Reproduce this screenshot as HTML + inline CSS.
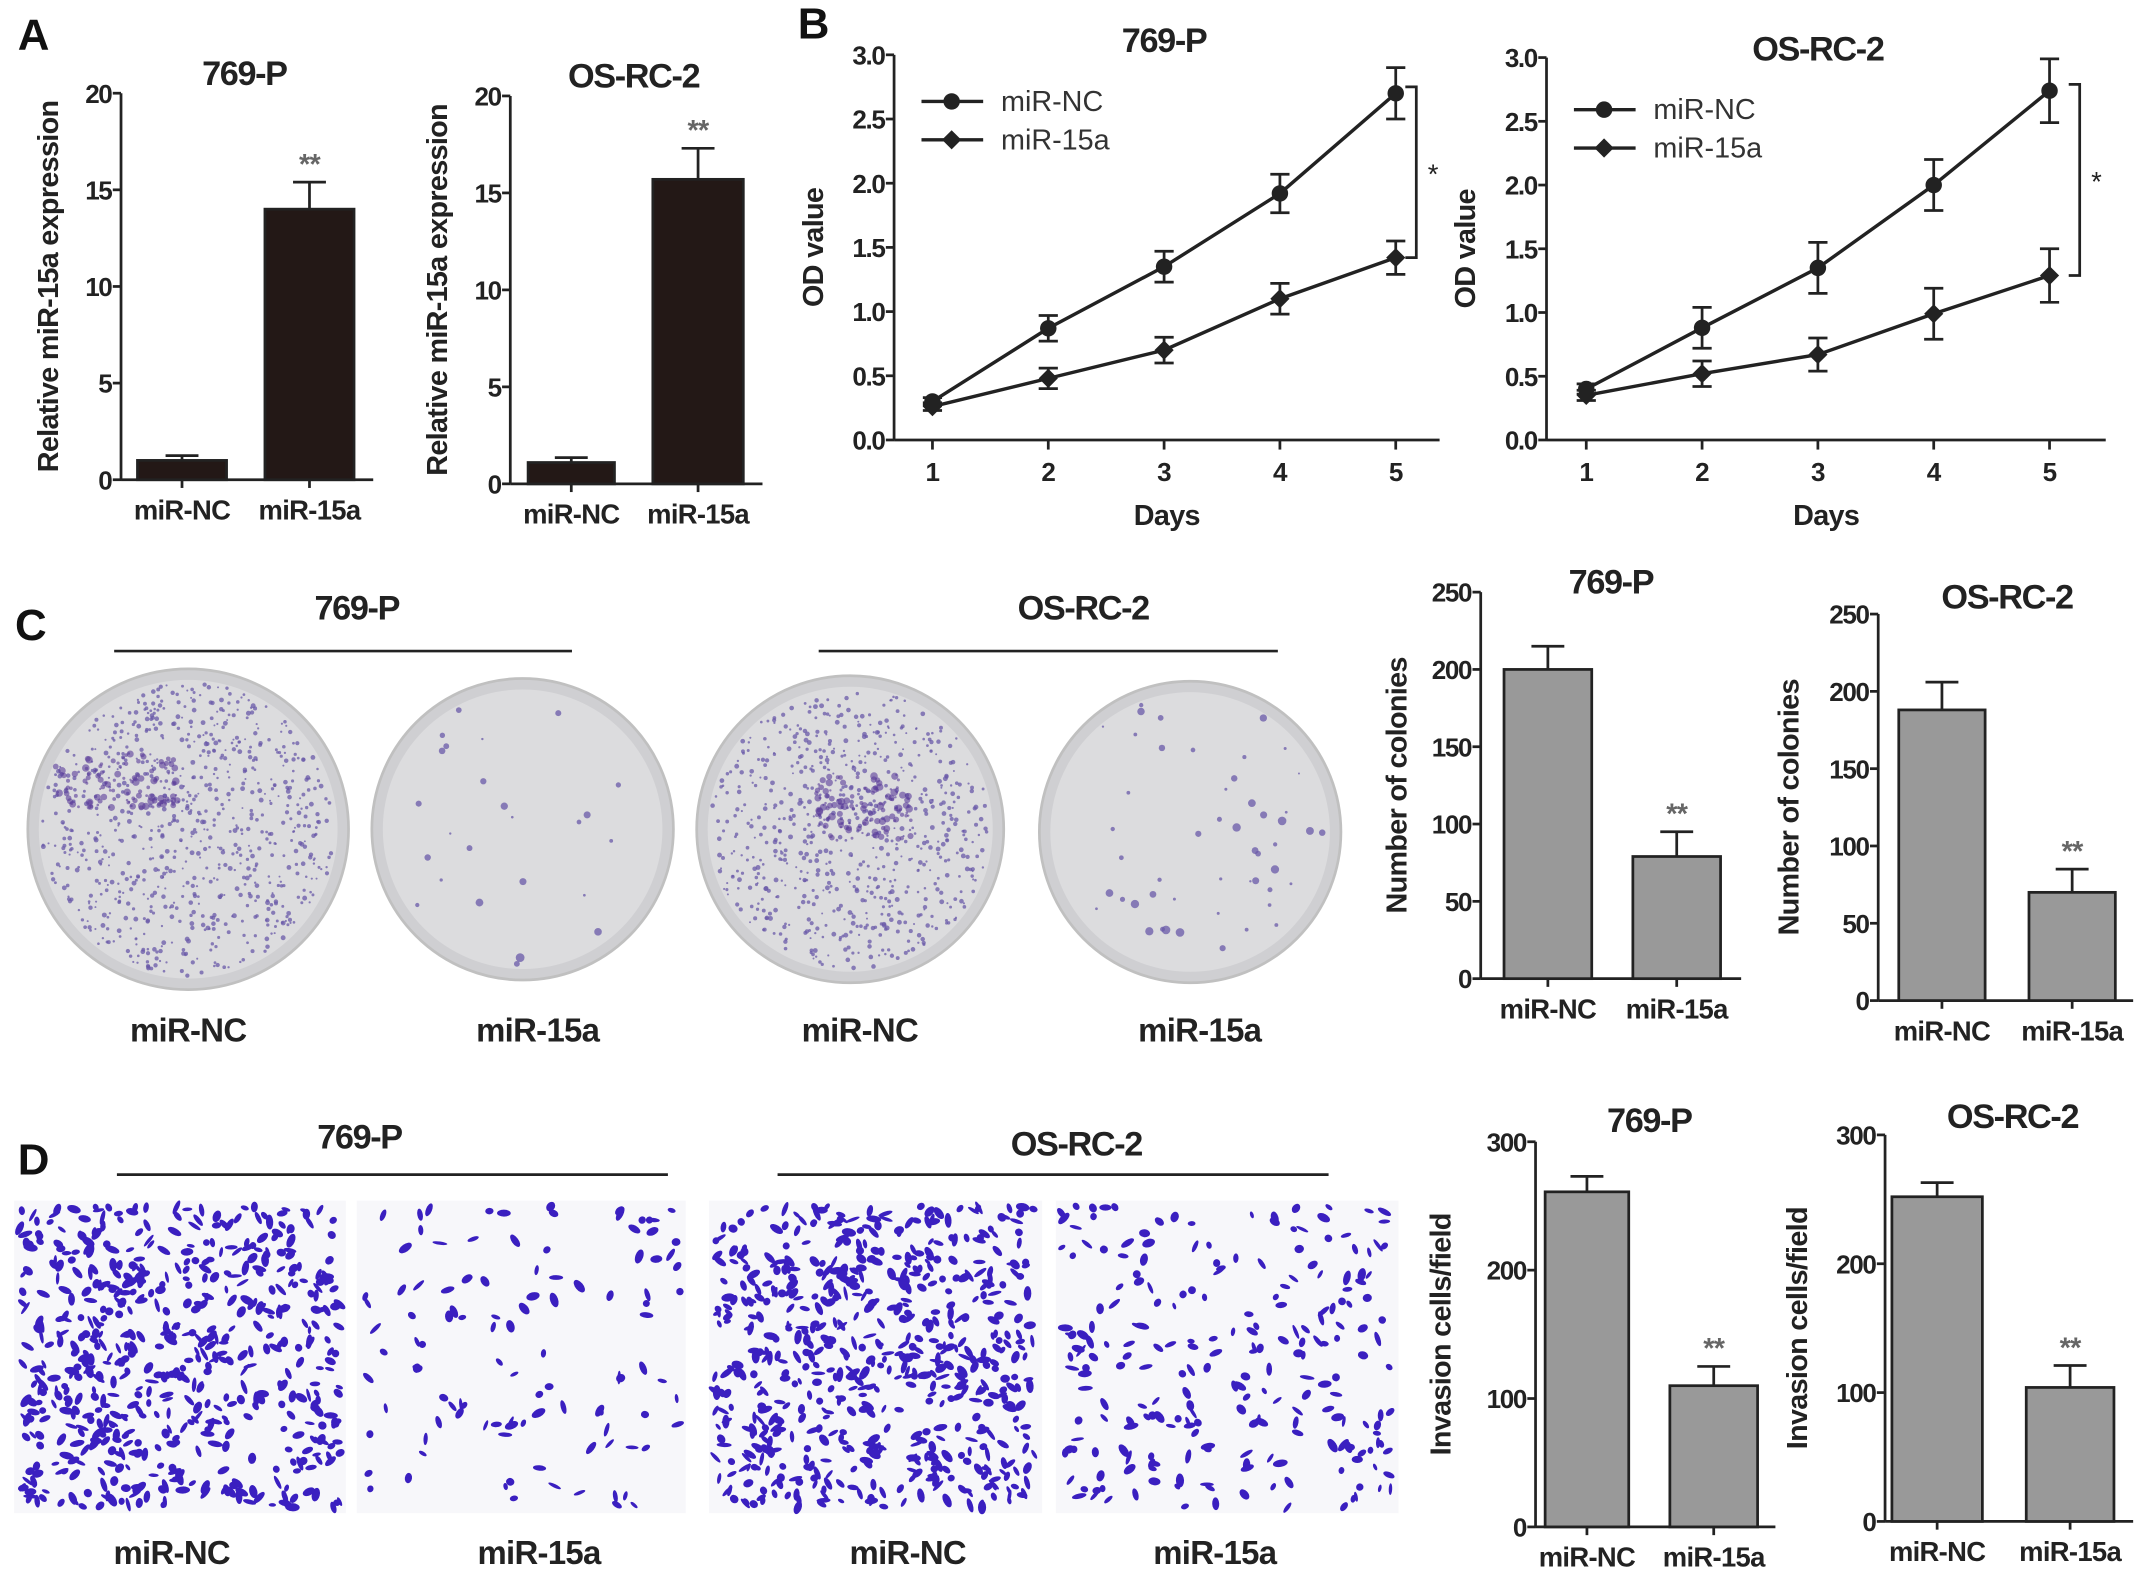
<!DOCTYPE html>
<html><head><meta charset="utf-8"><style>
html,body{margin:0;padding:0;background:#fff;}
svg{display:block;font-family:"Liberation Sans",Arial,sans-serif;}
</style></head><body>
<svg id="fig" width="2150" height="1579" viewBox="0 0 1568 1152" xmlns="http://www.w3.org/2000/svg"></svg>
<script>
// ===== Data =====
const barCats = ["miR-NC","miR-15a"];
const aP769 = [1.0, 14.0];       const aP769Err = [0.25, 1.4];
const aOSRC = [1.1, 15.7];       const aOSRCErr = [0.25, 1.6];
const days = [1,2,3,4,5];
const bP769NC = [0.30,0.87,1.35,1.92,2.70]; const bP769NCErr=[0.03,0.10,0.12,0.15,0.20];
const bP769A  = [0.26,0.48,0.70,1.10,1.42]; const bP769AErr=[0.03,0.08,0.10,0.12,0.13];
const bOSNC   = [0.40,0.88,1.35,2.00,2.74]; const bOSNCErr=[0.04,0.16,0.20,0.20,0.25];
const bOSA    = [0.35,0.52,0.67,0.99,1.29]; const bOSAErr=[0.04,0.10,0.13,0.20,0.21];
const cP769 = [200, 79];  const cP769Err = [15, 16];
const cOSRC = [188, 70];  const cOSRCErr = [18, 15];
const dP769 = [261, 110]; const dP769Err = [12, 15];
const dOSRC = [252, 104]; const dOSRCErr = [11, 17];
const ticksA = [0,5,10,15,20];
const ticksB = [0,0.5,1.0,1.5,2.0,2.5,3.0];
const ticksC = [0,50,100,150,200,250];
const ticksD = [0,100,200,300];

const svg = document.getElementById('fig');
const NS = "http://www.w3.org/2000/svg";
function el(tag, attrs, parent){
  const e = document.createElementNS(NS, tag);
  for (const k in attrs) e.setAttribute(k, attrs[k]);
  (parent||svg).appendChild(e); return e;
}
function txt(s, x, y, size, opts, parent){
  opts = opts||{};
  const t = el('text', {x:x, y:y, 'font-size':size, 'font-weight':opts.w||'bold', 'text-anchor':opts.a||'middle', fill:opts.fill||'#222', 'letter-spacing':opts.ls||'-0.5'}, parent);
  if (opts.rot) t.setAttribute('transform', `rotate(-90 ${x} ${y})`);
  t.textContent = s; return t;
}

// ===== Bar chart =====
function barChart(name, ax, yTop, yBot, yMax, ticks, vals, errs, bars, fill, title, tx, ty, ylab, ylx, xAxisEnd){
  const grp = el('g', {}, svg);
  
  
  const y = v => yBot - (v / yMax) * (yBot - yTop);
  el('line', {x1:ax, y1:yTop, x2:ax, y2:yBot, stroke:'#222','stroke-width':2}, grp);
  el('line', {x1:ax, y1:yBot, x2:xAxisEnd, y2:yBot, stroke:'#222','stroke-width':2}, grp);
  ticks.forEach(t => {
    el('line', {x1:ax-6, y1:y(t), x2:ax, y2:y(t), stroke:'#222','stroke-width':2}, grp);
    txt(String(t), ax-7, y(t)+7, 19, {a:'end', ls:'-1'}, grp);
  });
  vals.forEach((v,i) => {
    const [x0,x1] = bars[i]; const cx=(x0+x1)/2;
    const r = el('rect', {x:x0, y:y(v), width:x1-x0, height:yBot-y(v), fill:fill, stroke:'#222','stroke-width':2}, grp);
    
    
    const ye = y(v + errs[i]);
    el('line', {x1:cx, y1:y(v), x2:cx, y2:ye, stroke:'#222','stroke-width':2}, grp);
    el('line', {x1:cx-12, y1:ye, x2:cx+12, y2:ye, stroke:'#222','stroke-width':2}, grp);
    el('line', {x1:cx, y1:yBot, x2:cx, y2:yBot+6, stroke:'#222','stroke-width':2}, grp);
    txt(barCats[i], cx, yBot+29, 20, {}, grp);
    if (i===1) txt('**', cx, ye-6, 21, {fill:'#666'}, grp);
  });
  txt(title, tx, ty, 25, {ls:'-1'}, grp);
  txt(ylab, ylx, (yTop+yBot)/2, 21, {rot:true}, grp);
}

// Panel A
txt('A', 24, 36, 32, {fill:'#111'});
barChart('chart-a-769p', 88, 68, 350, 20, ticksA, aP769, aP769Err, [[100,165],[193,258]], '#231816', '769-P', 178, 62, 'Relative miR-15a expression', 42, 272);
barChart('chart-a-osrc2', 372, 70, 353, 20, ticksA, aOSRC, aOSRCErr, [[385,448],[476,542]], '#231816', 'OS-RC-2', 462, 64, 'Relative miR-15a expression', 326, 556);

// ===== Line chart =====
function lineChart(name, ax, yTop, yBot, xs, xEnd, nc, ncE, a, aE, title, tx, ty, legY, brX, ylx){
  const grp = el('g', {}, svg);
  
  
  const y = v => yBot - (v/3.0)*(yBot-yTop);
  const x = d => xs[0] + (d-1)*(xs[1]-xs[0])/4;
  el('line', {x1:ax, y1:yTop, x2:ax, y2:yBot, stroke:'#222','stroke-width':2}, grp);
  el('line', {x1:ax, y1:yBot, x2:xEnd, y2:yBot, stroke:'#222','stroke-width':2}, grp);
  ticksB.forEach(t => {
    el('line', {x1:ax-6, y1:y(t), x2:ax, y2:y(t), stroke:'#222','stroke-width':2}, grp);
    txt(t.toFixed(1), ax-7, y(t)+7, 19, {a:'end', ls:'-1'}, grp);
  });
  days.forEach(d => {
    el('line', {x1:x(d), y1:yBot, x2:x(d), y2:yBot+7, stroke:'#222','stroke-width':2}, grp);
    txt(String(d), x(d), yBot+30, 19, {}, grp);
  });
  txt('Days', (ax+xEnd)/2, yBot+62, 21, {}, grp);
  txt('OD value', ylx, (yTop+yBot)/2, 21, {rot:true}, grp);
  txt(title, tx, ty, 25, {ls:'-1'}, grp);
  function series(vals, errs, marker, sname){
    const s = el('g', {}, grp);
    
    
    el('polyline', {points: vals.map((v,i)=>x(days[i])+','+y(v)).join(' '), fill:'none', stroke:'#222','stroke-width':2.5}, s);
    vals.forEach((v,i) => {
      const cx = x(days[i]), cy = y(v);
      el('line', {x1:cx, y1:y(v-errs[i]), x2:cx, y2:y(v+errs[i]), stroke:'#222','stroke-width':2}, s);
      [v-errs[i], v+errs[i]].forEach(e => el('line', {x1:cx-7, y1:y(e), x2:cx+7, y2:y(e), stroke:'#222','stroke-width':2}, s));
      if (marker==='c') el('circle', {cx:cx, cy:cy, r:6, fill:'#222'}, s);
      else el('polygon', {points:`${cx},${cy-7} ${cx+7},${cy} ${cx},${cy+7} ${cx-7},${cy}`, fill:'#222'}, s);
    });
  }
  series(nc, ncE, 'c', 'series-mir-nc');
  series(a, aE, 'd', 'series-mir-15a');
  const lx = ax + 20;
  const lg = el('g', {}, grp);
  
  
  el('line', {x1:lx, y1:legY, x2:lx+45, y2:legY, stroke:'#222','stroke-width':2.5}, lg);
  el('circle', {cx:lx+22, cy:legY, r:6, fill:'#222'}, lg);
  txt('miR-NC', lx+58, legY+7, 21, {a:'start', w:'normal', fill:'#333', ls:'0'}, lg);
  const l2 = legY+28;
  el('line', {x1:lx, y1:l2, x2:lx+45, y2:l2, stroke:'#222','stroke-width':2.5}, lg);
  el('polygon', {points:`${lx+22},${l2-7} ${lx+29},${l2} ${lx+22},${l2+7} ${lx+15},${l2}`, fill:'#222'}, lg);
  txt('miR-15a', lx+58, l2+7, 21, {a:'start', w:'normal', fill:'#333', ls:'0'}, lg);
  const y1 = y(nc[4]+0.05), y2 = y(a[4]);
  el('polyline', {points:`${brX-8},${y1} ${brX},${y1} ${brX},${y2} ${brX-8},${y2}`, fill:'none', stroke:'#222','stroke-width':2}, grp);
  txt('*', brX+12, (y1+y2)/2+8, 20, {w:'normal'}, grp);
}
txt('B', 593, 28, 32, {fill:'#111'});
lineChart('chart-b-769p', 652, 40, 321, [680,1018], 1050, bP769NC, bP769NCErr, bP769A, bP769AErr, '769-P', 849, 38, 74, 1033, 600);
lineChart('chart-b-osrc2', 1128, 42, 321, [1157,1495], 1536, bOSNC, bOSNCErr, bOSA, bOSAErr, 'OS-RC-2', 1326, 44, 80, 1517, 1076);

// ===== Seeded texture generator (photo texture only) =====
let seed = 12345;
function rnd(){ seed = (seed*1103515245 + 12345) % 2147483648; return seed/2147483648; }

// Panel C
txt('C', 22, 467, 32, {fill:'#111'});
txt('769-P', 260, 452, 25, {ls:'-1'}); el('line',{x1:83,y1:475,x2:417,y2:475,stroke:'#222','stroke-width':2});
txt('OS-RC-2', 790, 452, 25, {ls:'-1'}); el('line',{x1:597,y1:475,x2:932,y2:475,stroke:'#222','stroke-width':2});
function plate(name, cx, cy, r, n, cluster){
  const g = el('g', {}, svg);
  
  
  el('circle', {cx:cx, cy:cy, r:r, fill:'#cfcfd2', stroke:'#c0c0c0','stroke-width':2}, g);
  el('circle', {cx:cx, cy:cy, r:r-8, fill:'#dcdcde'}, g);
  for (let i=0;i<n;i++){
    const a = rnd()*6.283, d = Math.sqrt(rnd())*(r-10);
    el('circle', {cx:cx+Math.cos(a)*d, cy:cy+Math.sin(a)*d, r:0.7+rnd()*(n>300?1.1:2.5), fill:'#6a5aa8', opacity:0.75}, g);
  }
  if (cluster){
    for (let i=0;i<120;i++){
      el('circle', {cx:cluster[0]+(rnd()-0.5)*cluster[2], cy:cluster[1]+(rnd()-0.5)*cluster[3], r:0.8+rnd()*2, fill:'#5a3c9a', opacity:0.6}, g);
    }
  }
}
plate('plate-769p-mir-nc', 137, 605, 117, 800, [85,570,90,40]);
plate('plate-769p-mir-15a', 381, 605, 110, 25);
plate('plate-osrc2-mir-nc', 620, 605, 112, 700, [630,590,70,50]);
plate('plate-osrc2-mir-15a', 868, 607, 110, 50);
[['miR-NC',137],['miR-15a',392],['miR-NC',627],['miR-15a',875]].forEach(p=>txt(p[0],p[1],760,24));

barChart('chart-c-769p', 1080, 432, 714, 250, ticksC, cP769, cP769Err, [[1097,1161],[1191,1255]], '#999999', '769-P', 1175, 433, 'Number of colonies', 1026, 1270);
barChart('chart-c-osrc2', 1370, 448, 730, 250, ticksC, cOSRC, cOSRCErr, [[1385,1448],[1480,1543]], '#999999', 'OS-RC-2', 1464, 444, 'Number of colonies', 1312, 1556);

// Panel D
txt('D', 24, 857, 32, {fill:'#111'});
txt('769-P', 262, 838, 25, {ls:'-1'}); el('line',{x1:85,y1:857,x2:487,y2:857,stroke:'#222','stroke-width':2});
txt('OS-RC-2', 785, 843, 25, {ls:'-1'}); el('line',{x1:567,y1:857,x2:969,y2:857,stroke:'#222','stroke-width':2});
function field(name, x0, x1, n){
  const g = el('g', {}, svg);
  
  
  el('rect', {x:x0, y:876, width:x1-x0, height:228, fill:'#f7f7fa'}, g);
  for (let i=0;i<n;i++){
    const cx = x0+4+rnd()*(x1-x0-8), cy = 880+rnd()*220;
    el('ellipse', {cx:cx, cy:cy, rx:1.2+rnd()*1.8, ry:2.5+rnd()*3, fill:'#3a1fc0', transform:`rotate(${rnd()*180} ${cx} ${cy})`}, g);
  }
}
field('field-769p-mir-nc', 10, 252, 600);
field('field-769p-mir-15a', 260, 500, 110);
field('field-osrc2-mir-nc', 517, 760, 620);
field('field-osrc2-mir-15a', 770, 1020, 230);
[['miR-NC',125],['miR-15a',393],['miR-NC',662],['miR-15a',886]].forEach(p=>txt(p[0],p[1],1141,24));

barChart('chart-d-769p', 1120, 833, 1114, 300, ticksD, dP769, dP769Err, [[1127,1188],[1218,1282]], '#999999', '769-P', 1203, 826, 'Invasion cells/field', 1058, 1295);
barChart('chart-d-osrc2', 1375, 828, 1110, 300, ticksD, dOSRC, dOSRCErr, [[1380,1446],[1478,1542]], '#999999', 'OS-RC-2', 1468, 823, 'Invasion cells/field', 1318, 1556);
</script>
</body></html>
